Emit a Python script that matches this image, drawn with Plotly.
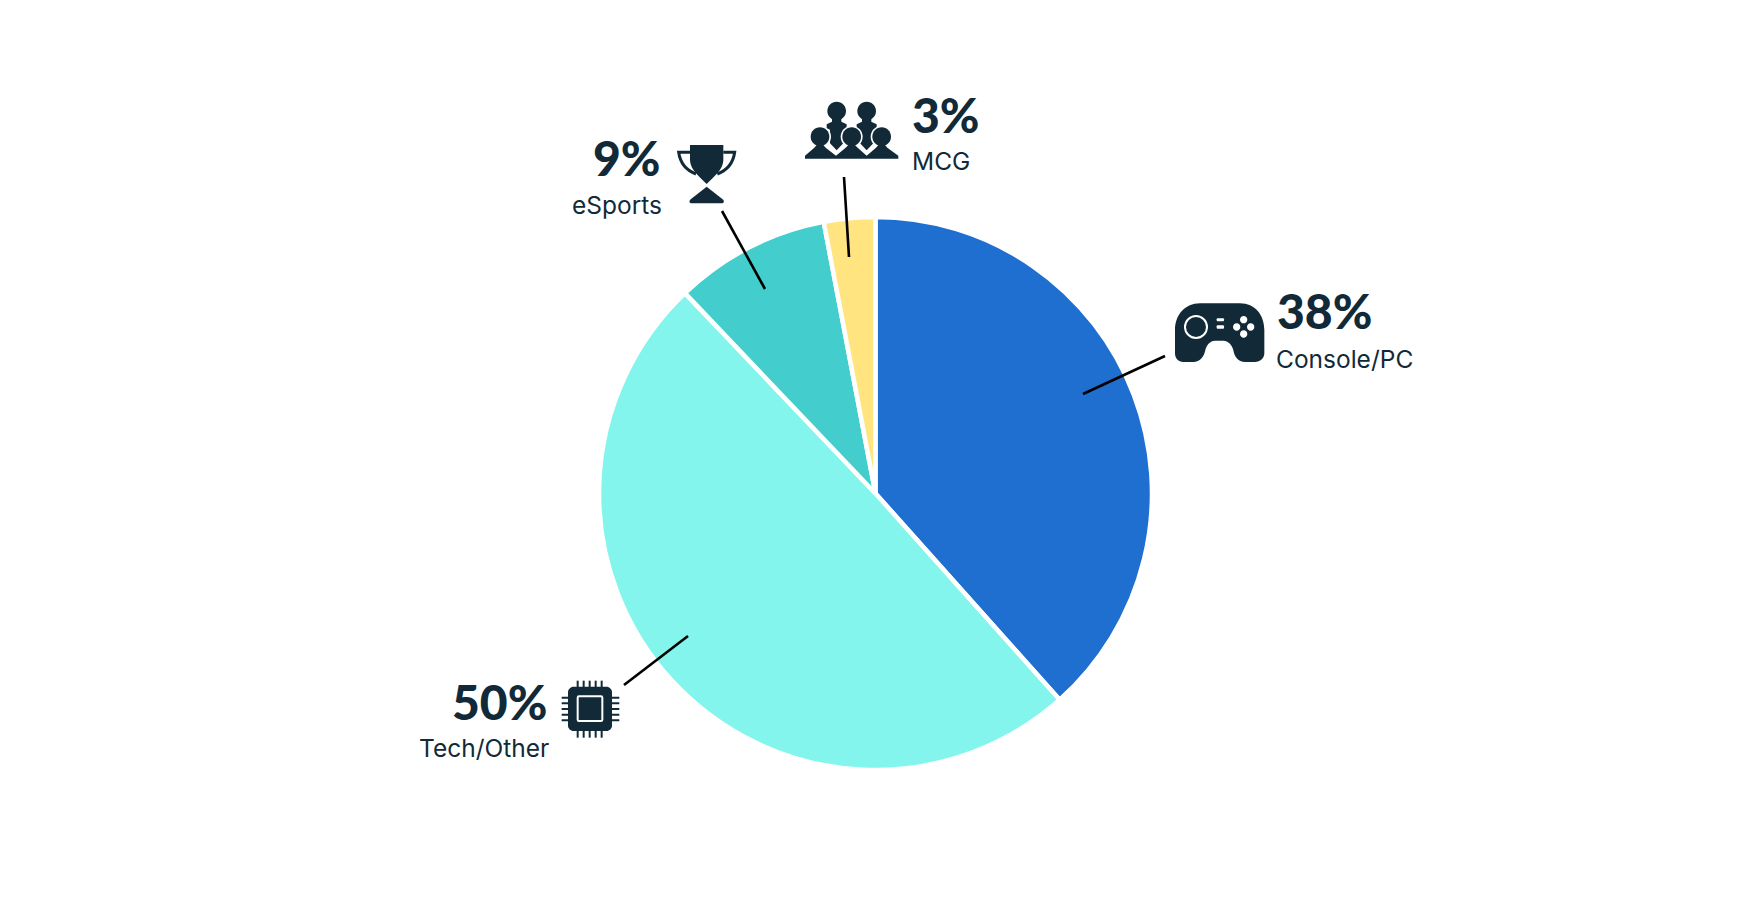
import re
import plotly.graph_objects as go

categories = ["Console/PC", "Tech/Other", "eSports", "MCG"]
shares = [38.4, 49.5, 9.1, 3.0]
share_labels = ["38%", "50%", "9%", "3%"]
slice_colors = ["#1f6fd0", "#84f5ec", "#43cecd", "#ffe47f"]

W, H = 1750, 916
INK = "#122a38"

def to_paper(path, ox=0, oy=0, k=1.0):
    nums = iter(range(10**6))
    def rep(m):
        i = next(nums)
        v = float(m.group())
        if i % 2 == 0:
            return f"{(ox + v * k) / W:.5f}"
        return f"{1 - (oy + v * k) / H:.5f}"
    return re.sub(r"-?\d+\.?\d*", rep, path)

shapes = []
def add(path, ox, oy, k, fill=INK, stroke=None, lw=0):
    d = dict(type="path", xref="paper", yref="paper", path=to_paper(path, ox, oy, k), layer="above")
    d["fillcolor"] = fill if fill else "rgba(0,0,0,0)"
    d["line"] = dict(color=stroke, width=lw) if stroke else dict(width=0)
    shapes.append(d)

def circ(cx, cy, r):
    c = 0.5523 * r
    return (f"M{cx-r},{cy} C{cx-r},{cy-c} {cx-c},{cy-r} {cx},{cy-r} C{cx+c},{cy-r} {cx+r},{cy-c} {cx+r},{cy} "
            f"C{cx+r},{cy+c} {cx+c},{cy+r} {cx},{cy+r} C{cx-c},{cy+r} {cx-r},{cy+c} {cx-r},{cy} Z")

def rrect(x0, y0, x1, y1, r):
    return (f"M{x0+r},{y0} L{x1-r},{y0} C{x1-r/2},{y0} {x1},{y0+r/2} {x1},{y0+r} L{x1},{y1-r} "
            f"C{x1},{y1-r/2} {x1-r/2},{y1} {x1-r},{y1} L{x0+r},{y1} C{x0+r/2},{y1} {x0},{y1-r/2} {x0},{y1-r} "
            f"L{x0},{y0+r} C{x0},{y0+r/2} {x0+r/2},{y0} {x0+r},{y0} Z")

# Gamepad icon
o = (1100, 250, 1/3)
add("M300,160 L420,160 C465,160 493,195 493,240 L493,310 C493,325 480,336 465,336 L435,336 C415,336 403,320 400,300 "
    "C396,285 385,272 370,272 L345,272 C330,272 320,285 316,300 C312,320 300,336 280,336 L250,336 C235,336 225,325 225,310 "
    "L225,240 C225,195 255,160 300,160 Z", *o)
add(circ(288, 231, 33), *o, fill=None, stroke="white", lw=2)
add(rrect(350, 205, 372, 214, 3), *o, fill="white")
add(rrect(350, 226, 372, 236, 3), *o, fill="white")
for cx, cy in [(431, 209), (410, 231), (452, 231), (431, 252)]:
    add(circ(cx, cy, 11), *o, fill="white")

# Trophy icon
o = (670, 140, 1/3)
add("M60,15 L160,15 L160,62 C158,90 132,108 110,132 C88,108 62,90 60,62 Z", *o)
add("M60,37 L26,37 C30,65 45,90 78,102", *o, fill=None, stroke=INK, lw=3)
add("M160,37 L194,37 C190,65 175,90 142,102", *o, fill=None, stroke=INK, lw=3)
add("M110,140 L158,178 C164,184 162,190 155,190 L65,190 C58,190 56,184 62,178 Z", *o)

# Crowd icon
o = (795, 95, 1/3)
for cx in (125, 215):
    add(circ(cx, 48, 28), *o)
    add(f"M{cx-14},70 L{cx+14},70 L{cx+14},80 L{cx+30},88 L{cx+30},100 L{cx+20},104 L{cx+20},145 L{cx},166 "
        f"L{cx-20},145 L{cx-20},104 L{cx-30},100 L{cx-30},88 L{cx-14},80 Z", *o)
for cx in (75, 170, 260):
    add(circ(cx, 125, 33), *o, fill="white")
    add(circ(cx, 125, 28), *o)
add("M30,191 L30,182 L58,158 L65,150 L85,150 L92,158 L123,182 L152,158 L160,150 L180,150 L188,158 L215,182 "
    "L243,158 L250,150 L270,150 L277,158 L310,182 L310,191 Z", *o)

# Chip icon
o = (380, 620, 1/3)
for p in [593, 611, 629, 647, 665]:
    add(f"M{p},182 L{p},353", *o, fill=None, stroke=INK, lw=2)
for p in [233, 250, 267, 284, 301]:
    add(f"M545,{p} L718,{p}", *o, fill=None, stroke=INK, lw=2)
add(rrect(564, 200, 696, 333, 16), *o)
add(rrect(593, 229, 667, 303, 4), *o, fill=None, stroke="white", lw=2)

# Leader lines
for x0, y0, x1, y1 in [(1165, 356, 1083, 394), (844, 177, 849, 257), (722, 211, 765, 289), (624, 685, 688, 636)]:
    shapes.append(dict(type="line", xref="paper", yref="paper", x0=x0/W, y0=1-y0/H, x1=x1/W, y1=1-y1/H,
                       line=dict(color="black", width=2.6), layer="above"))

# label anchors: big x, big baseline, small x, small baseline, x-anchor
anchors = {
    "Console/PC": (1276, 328, 1275, 367.5, "left"),
    "Tech/Other": (548, 719, 550, 757, "right"),
    "eSports": (662, 175, 663, 213.5, "right"),
    "MCG": (911, 132, 911, 169.5, "left"),
}
annotations = []
for name, lab in zip(categories, share_labels):
    bx, by, sx, sy, anc = anchors[name]
    annotations.append(dict(text=lab, x=bx/W, y=1-(by+12)/H, xref="paper", yref="paper", xanchor=anc,
                            yanchor="bottom", showarrow=False, borderpad=0,
                            font=dict(family="Lato", size=48, weight=900, color=INK)))
    annotations.append(dict(text=name, x=sx/W, y=1-(sy+7)/H, xref="paper", yref="paper", xanchor=anc,
                            yanchor="bottom", showarrow=False, borderpad=0,
                            font=dict(family="Inter", size=24.5, color=INK)))

cx, cy, r = 875.5, 493.5, 276.5
fig = go.Figure(go.Pie(
    labels=categories, values=shares, marker=dict(colors=slice_colors, line=dict(color="white", width=4.5)),
    sort=False, direction="clockwise", rotation=0, textinfo="none", hole=0,
    domain=dict(x=[(cx-r)/W, (cx+r)/W], y=[1-(cy+r)/H, 1-(cy-r)/H]),
))
fig.update_layout(width=W, height=H, margin=dict(l=0, r=0, t=0, b=0), showlegend=False,
                  paper_bgcolor="white", shapes=shapes, annotations=annotations)
fig.write_html("out.html", config=dict(displayModeBar=False),
               post_script="document.body.style.margin='0';document.body.style.overflow='hidden';")
